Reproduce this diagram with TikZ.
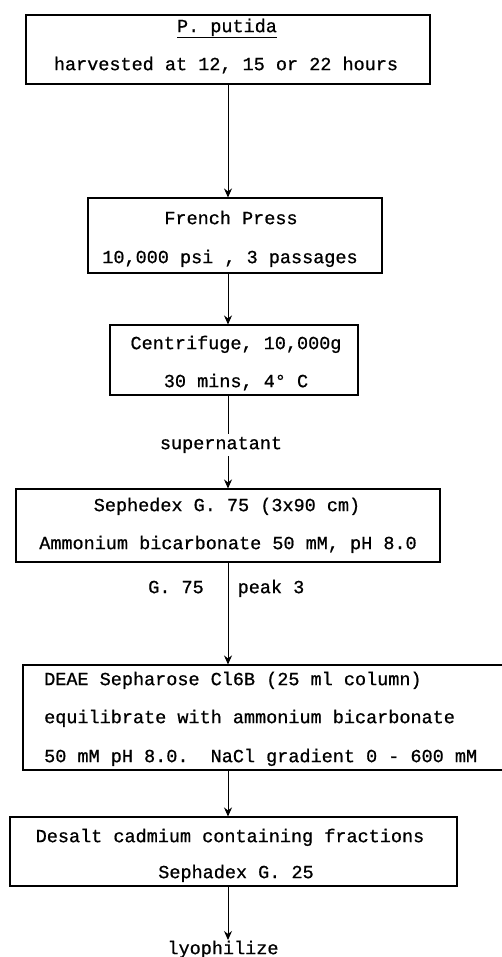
\documentclass[tikz,border=0pt]{standalone}
\usepackage{fontspec}
\setmonofont[FakeBold=0.8]{Liberation Mono}
\usetikzlibrary{arrows.meta}
\begin{document}
\begin{tikzpicture}[x=1pt,y=-1pt,
  box/.style={draw, line width=1.1pt, inner sep=0pt},
  txt/.style={font=\ttfamily\fontsize{18.5}{20}\selectfont, inner sep=0pt, anchor=mid, yshift=-3pt},
  arr/.style={-{Stealth[length=9pt,width=8pt]}, line width=1pt}]
\useasboundingbox (0,0) rectangle (502,957);
\fill[white] (0,0) rectangle (502,957);
\coordinate (ax) at (228,0);
% boxes
\node[box, minimum width=404pt, minimum height=69pt] (b1) at (228,49.5) {};
\node[box, minimum width=294pt, minimum height=75pt] (b2) at (235,235.5) {};
\node[box, minimum width=248pt, minimum height=70pt] (b3) at (234,360) {};
\node[box, minimum width=424pt, minimum height=73pt] (b4) at (228,525.5) {};
\node[box, minimum width=487pt, minimum height=105pt] (b5) at (266.5,717.5) {};
\node[box, minimum width=447pt, minimum height=69pt] (b6) at (233.5,851.5) {};
% texts
\node[txt] (t1a) at (227,27) {\underline{P. putida}};
\node[txt] (t1b) at (226,65) {harvested at 12, 15 or 22 hours};
\node[txt] (t2a) at (231,219) {French Press};
\node[txt] (t2b) at (230,258) {10,000 psi , 3 passages};
\node[txt] (t3a) at (236,344) {Centrifuge, 10,000g};
\node[txt] (t3b) at (236,382) {30 mins, 4° C};
\node[txt, fill=white, inner sep=3pt] (sup) at (221,444) {supernatant};
\node[txt] (t4a) at (227,506) {Sephedex G. 75 (3x90 cm)};
\node[txt] (t4b) at (228,544) {Ammonium bicarbonate 50 mM, pH 8.0};
\node[txt] (g75) at (176,588) {G. 75};
\node[txt] (pk3) at (271,588) {peak 3};
\node[txt, anchor=mid west] (t5a) at (44,680) {DEAE Sepharose Cl6B (25 ml column)};
\node[txt, anchor=mid west] (t5b) at (44,718) {equilibrate with ammonium bicarbonate};
\node[txt, anchor=mid west] (t5c) at (44,757) {50 mM pH 8.0.~~NaCl gradient 0 - 600 mM};
\node[txt] (t6a) at (230,837) {Desalt cadmium containing fractions};
\node[txt] (t6b) at (236,873) {Sephadex G. 25};
\node[txt] (lyo) at (223,949) {lyophilize};
\coordinate (lyotop) at (228,940);
% connectors
\draw[arr] (b1.south -| ax) -- (b2.north -| ax);
\draw[arr] (b2.south -| ax) -- (b3.north -| ax);
\draw[line width=1pt] (b3.south -| ax) -- (sup.north -| ax);
\draw[arr] (sup.south -| ax) -- (b4.north -| ax);
\draw[arr] (b4.south -| ax) -- (b5.north -| ax);
\draw[arr] (b5.south -| ax) -- (b6.north -| ax);
\draw[arr] (b6.south -| ax) -- (lyotop);
\end{tikzpicture}
\end{document}
